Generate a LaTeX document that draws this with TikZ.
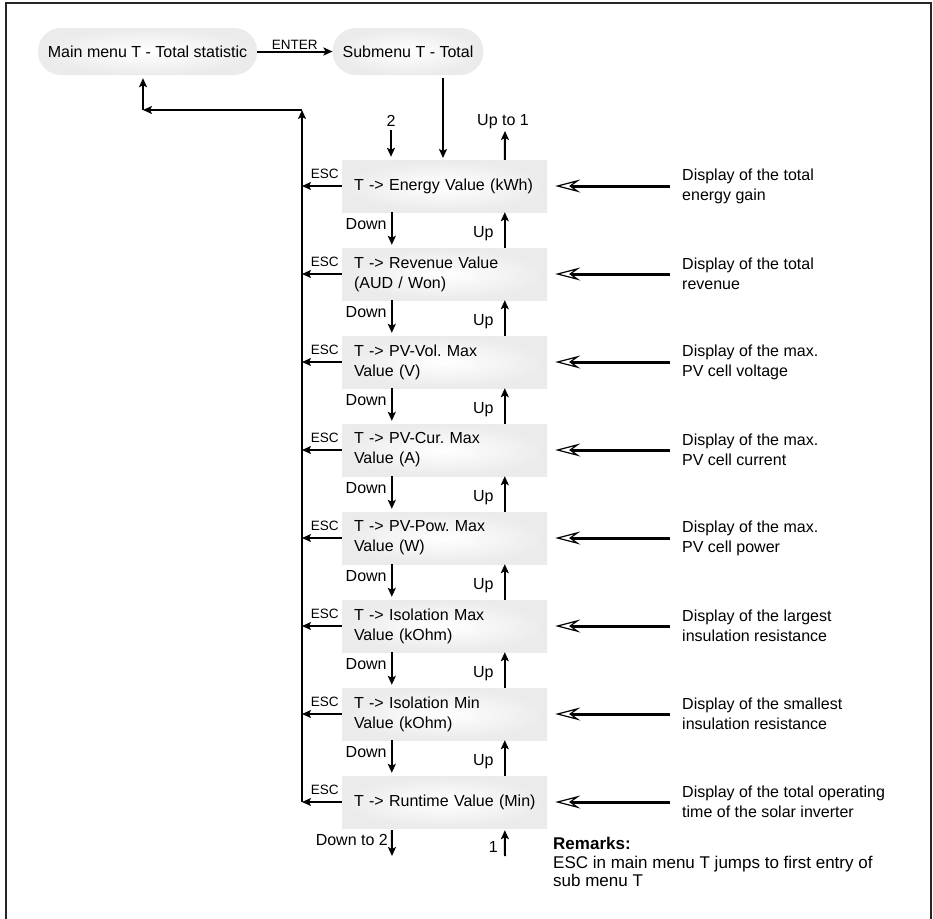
\documentclass[tikz,border=0pt]{standalone}
\usepackage{fontspec}
\setmainfont{Liberation Sans}
\usetikzlibrary{arrows.meta,calc}
\frenchspacing

\begin{document}
\begin{tikzpicture}[x=1pt,y=-1pt,
  big/.style={font=\fontsize{16}{20}\selectfont},
  small/.style={font=\fontsize{13.5}{16}\selectfont},
  softfill/.style={shading=radial, inner color=white, outer color=black!8},
  pill/.style={big, softfill, rounded corners=23pt, minimum height=47pt, inner xsep=10pt},
  menubox/.style={big, softfill, minimum height=52pt, text width=181pt,
                  inner xsep=12pt, inner ysep=0pt, align=left},
  desc/.style={big, anchor=west, align=left, inner sep=0pt},
  lbl/.style={big, inner sep=0pt},
  esclbl/.style={small, inner sep=0pt},
  arr/.style={line width=2pt, -{Stealth[length=9pt,width=8pt,inset=2pt]}},
  feed/.style={line width=3pt,
               -{Stealth[open, length=25pt, width=13pt, inset=9pt, line width=1.2pt, fill=white]}},
]
\useasboundingbox (0,0) rectangle (933,918);

% outer frame (open at the bottom)
\draw[line width=2pt, black!85] (5.5,920) -- (5.5,3) -- (931,3) -- (931,920);

% top level menus
\node[pill, minimum width=219pt] (main) at (147.5,51.5) {Main menu T - Total statistic};
\node[pill, minimum width=150pt] (sub) at (408,51.5) {Submenu T - Total};
\draw[arr] (main.east) -- (sub.west) node[midway, above=1pt, esclbl] {ENTER};
\draw[arr, shorten <=3pt, shorten >=2pt] ([xshift=35pt]sub.south) -- ([xshift=35pt]sub.south |- 0,160);

% submenu entries and their descriptions
\foreach \i/\txt/\dsc in {
  1/{T -> Energy Value (kWh)}/{Display of the total\\energy gain},
  2/{T -> Revenue Value\\(AUD / Won)}/{Display of the total\\revenue},
  3/{T -> PV-Vol. Max\\Value (V)}/{Display of the max.\\PV cell voltage},
  4/{T -> PV-Cur. Max\\Value (A)}/{Display of the max.\\PV cell current},
  5/{T -> PV-Pow. Max\\Value (W)}/{Display of the max.\\PV cell power},
  6/{T -> Isolation Max\\Value (kOhm)}/{Display of the largest\\insulation resistance},
  7/{T -> Isolation Min\\Value (kOhm)}/{Display of the smallest\\insulation resistance},
  8/{\mbox{T -> Runtime Value (Min)}}/{Display of the total operating\\time of the solar inverter}}
{
  \node[menubox] (b\i) at (444.5,{186+88*(\i-1)}) {\txt};
  \node[desc] (d\i) at (682,{186+88*(\i-1)}) {\dsc};
  \draw[feed, shorten >=8pt] ([xshift=-12pt]d\i.west) -- (d\i.west -| b\i.east);
}

% ESC bus back to the main menu
\coordinate (bustop) at (302,110);
\coordinate (turn) at (143,110);
\foreach \i in {1,...,8}{
  \draw[arr] (b\i.west) -- (b\i.west -| bustop);
  \node[esclbl] at ($(b\i.west)+(-17,-12)$) {ESC};
}
\draw[arr] (b8.west -| bustop) -- (bustop);
\draw[arr] (bustop) -- (turn);
\draw[arr, shorten >=3pt] (turn) -- (main.south -| turn);

% Down / Up between neighbouring entries
\foreach \i [count=\j from 2] in {1,...,7}{
  \draw[arr, shorten >=3pt] ([xshift=50pt]b\i.south west) -- ([xshift=50pt]b\j.north west);
  \node[lbl, anchor=east] at ($(b\i.south west)+(45,12)$) {Down};
  \draw[arr] ([xshift=163pt]b\j.north west) -- ([xshift=163pt]b\i.south west);
  \node[lbl, anchor=east] at ($(b\i.south west)+(152,21)$) {Up};
}

% wrap-around arrows
\node[lbl] (two) at (391,121) {2};
\draw[arr, shorten <=3pt, shorten >=3pt] (two.south) -- (two.south |- b1.north);
\node[lbl] (upto) at (503,122) {Up to 1};
\coordinate (upend) at (505,131);
\draw[arr] ([xshift=163pt]b1.north west) -- (upend);

\coordinate (downend) at (392,856);
\draw[arr, shorten <=2pt] ([xshift=50pt]b8.south west) -- (downend);
\node[lbl, anchor=east] at (388,840) {Down to 2};
\coordinate (onestart) at (505,856);
\draw[arr, shorten >=2pt] (onestart) -- ([xshift=163pt]b8.south west);
\node[lbl, anchor=east] at (498,847) {1};

% remarks
\node[anchor=north west, align=left, inner sep=0pt, font=\fontsize{17}{18.5}\selectfont]
  (remarks) at (553,837)
  {\textbf{Remarks:}\\ESC in main menu T jumps to first entry of\\sub menu T};
\end{tikzpicture}
\end{document}
